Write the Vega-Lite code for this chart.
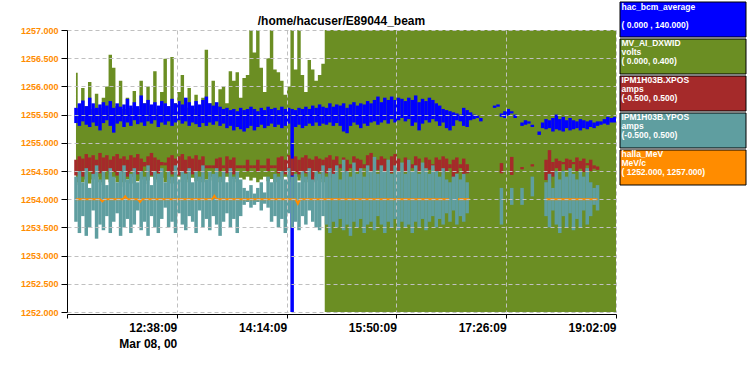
{
"$schema": "https://vega.github.io/schema/vega-lite/v6.json",
"width": 549,
"height": 282,
"autosize": {"type": "none"},
"padding": {"left": 67, "top": 30, "right": 132, "bottom": 69},
"background": "white",
"title": {"text": "/home/hacuser/E89044_beam", "font": "Liberation Sans", "fontSize": 12, "fontWeight": "bold", "color": "black", "anchor": "middle", "frame": "group", "baseline": "alphabetic", "offset": -34.5, "dy": 1},
"config": {"view": {"stroke": null}},
"datasets": {
"green": [
{"t":"2000-03-08T11:10","lo":1254.3,"hi":1256.24},
{"t":"2000-03-08T11:13","lo":1254.25,"hi":1255.6},
{"t":"2000-03-08T11:16","lo":1254.3,"hi":1255.97},
{"t":"2000-03-08T11:19","lo":1254.35,"hi":1255.65},
{"t":"2000-03-08T11:22","lo":1254.28,"hi":1256.08},
{"t":"2000-03-08T11:25","lo":1254.35,"hi":1255.6},
{"t":"2000-03-08T11:28","lo":1254.4,"hi":1255.87},
{"t":"2000-03-08T11:31","lo":1254.3,"hi":1255.62},
{"t":"2000-03-08T11:34","lo":1254.25,"hi":1255.8},
{"t":"2000-03-08T11:37","lo":1254.35,"hi":1256.0},
{"t":"2000-03-08T11:40","lo":1254.3,"hi":1256.56},
{"t":"2000-03-08T11:43","lo":1254.38,"hi":1256.33},
{"t":"2000-03-08T11:46","lo":1254.3,"hi":1255.65},
{"t":"2000-03-08T11:49","lo":1254.22,"hi":1256.1},
{"t":"2000-03-08T11:52","lo":1254.3,"hi":1255.6},
{"t":"2000-03-08T11:55","lo":1254.35,"hi":1255.8},
{"t":"2000-03-08T11:58","lo":1254.28,"hi":1255.62},
{"t":"2000-03-08T12:01","lo":1254.4,"hi":1255.92},
{"t":"2000-03-08T12:04","lo":1254.32,"hi":1255.6},
{"t":"2000-03-08T12:07","lo":1254.35,"hi":1256.1},
{"t":"2000-03-08T12:10","lo":1254.27,"hi":1255.7},
{"t":"2000-03-08T12:13","lo":1254.33,"hi":1256.0},
{"t":"2000-03-08T12:16","lo":1254.4,"hi":1255.65},
{"t":"2000-03-08T12:19","lo":1254.35,"hi":1256.27},
{"t":"2000-03-08T12:22","lo":1254.3,"hi":1255.6},
{"t":"2000-03-08T12:25","lo":1254.38,"hi":1255.9},
{"t":"2000-03-08T12:28","lo":1254.3,"hi":1256.49},
{"t":"2000-03-08T12:31","lo":1254.35,"hi":1255.65},
{"t":"2000-03-08T12:34","lo":1254.28,"hi":1256.52},
{"t":"2000-03-08T12:37","lo":1254.33,"hi":1255.7},
{"t":"2000-03-08T12:40","lo":1254.4,"hi":1255.9},
{"t":"2000-03-08T12:43","lo":1254.3,"hi":1256.2},
{"t":"2000-03-08T12:46","lo":1254.35,"hi":1255.62},
{"t":"2000-03-08T12:49","lo":1254.3,"hi":1255.97},
{"t":"2000-03-08T12:52","lo":1254.38,"hi":1255.6},
{"t":"2000-03-08T12:55","lo":1254.32,"hi":1255.85},
{"t":"2000-03-08T12:58","lo":1254.36,"hi":1255.65},
{"t":"2000-03-08T13:01","lo":1254.3,"hi":1255.8},
{"t":"2000-03-08T13:04","lo":1254.35,"hi":1256.65},
{"t":"2000-03-08T13:07","lo":1254.4,"hi":1255.7},
{"t":"2000-03-08T13:10","lo":1254.33,"hi":1256.1},
{"t":"2000-03-08T13:13","lo":1254.37,"hi":1255.65},
{"t":"2000-03-08T13:16","lo":1254.3,"hi":1255.95},
{"t":"2000-03-08T13:19","lo":1254.35,"hi":1256.0},
{"t":"2000-03-08T13:22","lo":1254.4,"hi":1255.7},
{"t":"2000-03-08T13:25","lo":1254.32,"hi":1256.27},
{"t":"2000-03-08T13:28","lo":1254.36,"hi":1256.1},
{"t":"2000-03-08T13:31","lo":1254.3,"hi":1256.25},
{"t":"2000-03-08T13:34","lo":1254.38,"hi":1255.8},
{"t":"2000-03-08T13:37","lo":1254.35,"hi":1256.15},
{"t":"2000-03-08T13:40","lo":1254.4,"hi":1256.2},
{"t":"2000-03-08T13:43","lo":1254.33,"hi":1257},
{"t":"2000-03-08T13:46","lo":1254.38,"hi":1256.6},
{"t":"2000-03-08T13:49","lo":1254.3,"hi":1257},
{"t":"2000-03-08T13:52","lo":1254.35,"hi":1256.33},
{"t":"2000-03-08T13:55","lo":1254.4,"hi":1255.9},
{"t":"2000-03-08T13:58","lo":1254.32,"hi":1256.5},
{"t":"2000-03-08T14:01","lo":1254.36,"hi":1257},
{"t":"2000-03-08T14:04","lo":1254.3,"hi":1256.3},
{"t":"2000-03-08T14:07","lo":1254.38,"hi":1256.25},
{"t":"2000-03-08T14:10","lo":1254.35,"hi":1256.1},
{"t":"2000-03-08T14:13","lo":1254.4,"hi":1255.85},
{"t":"2000-03-08T14:16","lo":1254.3,"hi":1256.0},
{"t":"2000-03-08T14:19","lo":1254.35,"hi":1257},
{"t":"2000-03-08T14:22","lo":1254.4,"hi":1256.3},
{"t":"2000-03-08T14:25","lo":1254.33,"hi":1257},
{"t":"2000-03-08T14:28","lo":1254.38,"hi":1256.2},
{"t":"2000-03-08T14:31","lo":1254.3,"hi":1255.9},
{"t":"2000-03-08T14:34","lo":1254.35,"hi":1256.47},
{"t":"2000-03-08T14:37","lo":1254.4,"hi":1256.3},
{"t":"2000-03-08T14:40","lo":1254.33,"hi":1256.1},
{"t":"2000-03-08T14:43","lo":1254.36,"hi":1256.2},
{"t":"2000-03-08T14:46","lo":1254.3,"hi":1256.4},
{"t":"2000-03-08T14:49","lo":1252,"hi":1257},
{"t":"2000-03-08T19:02:09","lo":1252,"hi":1257}
],
"blue": [
{"t":"2000-03-08T11:10","lo":1255.35,"hi":1255.62},
{"t":"2000-03-08T11:13","lo":1255.3,"hi":1255.7},
{"t":"2000-03-08T11:16","lo":1255.38,"hi":1255.75},
{"t":"2000-03-08T11:19","lo":1255.32,"hi":1255.65},
{"t":"2000-03-08T11:22","lo":1255.28,"hi":1255.8},
{"t":"2000-03-08T11:25","lo":1255.36,"hi":1255.7},
{"t":"2000-03-08T11:28","lo":1255.3,"hi":1255.62},
{"t":"2000-03-08T11:31","lo":1255.22,"hi":1255.68},
{"t":"2000-03-08T11:34","lo":1255.35,"hi":1255.72},
{"t":"2000-03-08T11:37","lo":1255.4,"hi":1255.66},
{"t":"2000-03-08T11:40","lo":1255.3,"hi":1255.74},
{"t":"2000-03-08T11:43","lo":1255.18,"hi":1255.62},
{"t":"2000-03-08T11:46","lo":1255.34,"hi":1255.7},
{"t":"2000-03-08T11:49","lo":1255.38,"hi":1255.64},
{"t":"2000-03-08T11:52","lo":1255.28,"hi":1255.68},
{"t":"2000-03-08T11:55","lo":1255.36,"hi":1255.78},
{"t":"2000-03-08T11:58","lo":1255.3,"hi":1255.66},
{"t":"2000-03-08T12:01","lo":1255.4,"hi":1255.72},
{"t":"2000-03-08T12:04","lo":1255.33,"hi":1255.65},
{"t":"2000-03-08T12:07","lo":1255.36,"hi":1255.84},
{"t":"2000-03-08T12:10","lo":1255.3,"hi":1255.7},
{"t":"2000-03-08T12:13","lo":1255.38,"hi":1255.76},
{"t":"2000-03-08T12:16","lo":1255.34,"hi":1255.68},
{"t":"2000-03-08T12:19","lo":1255.4,"hi":1255.72},
{"t":"2000-03-08T12:22","lo":1255.28,"hi":1255.66},
{"t":"2000-03-08T12:25","lo":1255.36,"hi":1255.74},
{"t":"2000-03-08T12:28","lo":1255.32,"hi":1255.7},
{"t":"2000-03-08T12:31","lo":1255.38,"hi":1255.65},
{"t":"2000-03-08T12:34","lo":1255.3,"hi":1255.78},
{"t":"2000-03-08T12:37","lo":1255.36,"hi":1255.7},
{"t":"2000-03-08T12:40","lo":1255.4,"hi":1255.74},
{"t":"2000-03-08T12:43","lo":1255.34,"hi":1255.68},
{"t":"2000-03-08T12:46","lo":1255.38,"hi":1255.8},
{"t":"2000-03-08T12:49","lo":1255.3,"hi":1255.72},
{"t":"2000-03-08T12:52","lo":1255.36,"hi":1255.66},
{"t":"2000-03-08T12:55","lo":1255.33,"hi":1255.74},
{"t":"2000-03-08T12:58","lo":1255.28,"hi":1255.68},
{"t":"2000-03-08T13:01","lo":1255.35,"hi":1255.76},
{"t":"2000-03-08T13:04","lo":1255.3,"hi":1255.82},
{"t":"2000-03-08T13:07","lo":1255.36,"hi":1255.7},
{"t":"2000-03-08T13:10","lo":1255.32,"hi":1255.66},
{"t":"2000-03-08T13:13","lo":1255.38,"hi":1255.72},
{"t":"2000-03-08T13:16","lo":1255.3,"hi":1255.64},
{"t":"2000-03-08T13:19","lo":1255.34,"hi":1255.6},
{"t":"2000-03-08T13:22","lo":1255.26,"hi":1255.62},
{"t":"2000-03-08T13:25","lo":1255.3,"hi":1255.58},
{"t":"2000-03-08T13:28","lo":1255.22,"hi":1255.6},
{"t":"2000-03-08T13:31","lo":1255.28,"hi":1255.56},
{"t":"2000-03-08T13:34","lo":1255.24,"hi":1255.62},
{"t":"2000-03-08T13:37","lo":1255.2,"hi":1255.58},
{"t":"2000-03-08T13:40","lo":1255.26,"hi":1255.6},
{"t":"2000-03-08T13:43","lo":1255.3,"hi":1255.64},
{"t":"2000-03-08T13:46","lo":1255.22,"hi":1255.6},
{"t":"2000-03-08T13:49","lo":1255.28,"hi":1255.56},
{"t":"2000-03-08T13:52","lo":1255.32,"hi":1255.62},
{"t":"2000-03-08T13:55","lo":1255.26,"hi":1255.58},
{"t":"2000-03-08T13:58","lo":1255.3,"hi":1255.64},
{"t":"2000-03-08T14:01","lo":1255.34,"hi":1255.6},
{"t":"2000-03-08T14:04","lo":1255.28,"hi":1255.62},
{"t":"2000-03-08T14:07","lo":1255.32,"hi":1255.58},
{"t":"2000-03-08T14:10","lo":1255.26,"hi":1255.64},
{"t":"2000-03-08T14:13","lo":1255.3,"hi":1255.6},
{"t":"2000-03-08T14:16","lo":1255.34,"hi":1255.62},
{"t":"2000-03-08T14:19","lo":1252,"hi":1255.6},
{"t":"2000-03-08T14:22","lo":1255.28,"hi":1255.58},
{"t":"2000-03-08T14:25","lo":1255.32,"hi":1255.62},
{"t":"2000-03-08T14:28","lo":1255.26,"hi":1255.6},
{"t":"2000-03-08T14:31","lo":1255.3,"hi":1255.64},
{"t":"2000-03-08T14:34","lo":1255.34,"hi":1255.6},
{"t":"2000-03-08T14:37","lo":1255.3,"hi":1255.66},
{"t":"2000-03-08T14:40","lo":1255.36,"hi":1255.62},
{"t":"2000-03-08T14:43","lo":1255.3,"hi":1255.68},
{"t":"2000-03-08T14:46","lo":1255.34,"hi":1255.64},
{"t":"2000-03-08T14:49","lo":1255.32,"hi":1255.62},
{"t":"2000-03-08T14:52","lo":1255.36,"hi":1255.7},
{"t":"2000-03-08T14:55","lo":1255.3,"hi":1255.64},
{"t":"2000-03-08T14:58","lo":1255.35,"hi":1255.68},
{"t":"2000-03-08T15:01","lo":1255.3,"hi":1255.66},
{"t":"2000-03-08T15:04","lo":1255.2,"hi":1255.7},
{"t":"2000-03-08T15:07","lo":1255.17,"hi":1255.62},
{"t":"2000-03-08T15:10","lo":1255.3,"hi":1255.68},
{"t":"2000-03-08T15:13","lo":1255.36,"hi":1255.72},
{"t":"2000-03-08T15:16","lo":1255.32,"hi":1255.66},
{"t":"2000-03-08T15:19","lo":1255.26,"hi":1255.7},
{"t":"2000-03-08T15:22","lo":1255.34,"hi":1255.68},
{"t":"2000-03-08T15:25","lo":1255.3,"hi":1255.74},
{"t":"2000-03-08T15:28","lo":1255.36,"hi":1255.7},
{"t":"2000-03-08T15:31","lo":1255.38,"hi":1255.76},
{"t":"2000-03-08T15:34","lo":1255.32,"hi":1255.82},
{"t":"2000-03-08T15:37","lo":1255.36,"hi":1255.72},
{"t":"2000-03-08T15:40","lo":1255.4,"hi":1255.8},
{"t":"2000-03-08T15:43","lo":1255.34,"hi":1255.76},
{"t":"2000-03-08T15:46","lo":1255.42,"hi":1255.82},
{"t":"2000-03-08T15:49","lo":1255.36,"hi":1255.76},
{"t":"2000-03-08T15:52","lo":1255.4,"hi":1255.8},
{"t":"2000-03-08T15:55","lo":1255.44,"hi":1255.78},
{"t":"2000-03-08T15:58","lo":1255.38,"hi":1255.74},
{"t":"2000-03-08T16:01","lo":1255.42,"hi":1255.8},
{"t":"2000-03-08T16:04","lo":1255.3,"hi":1255.76},
{"t":"2000-03-08T16:07","lo":1255.36,"hi":1255.84},
{"t":"2000-03-08T16:10","lo":1255.22,"hi":1255.72},
{"t":"2000-03-08T16:13","lo":1255.34,"hi":1255.78},
{"t":"2000-03-08T16:16","lo":1255.4,"hi":1255.74},
{"t":"2000-03-08T16:19","lo":1255.36,"hi":1255.8},
{"t":"2000-03-08T16:22","lo":1255.42,"hi":1255.76},
{"t":"2000-03-08T16:25","lo":1255.38,"hi":1255.7},
{"t":"2000-03-08T16:28","lo":1255.3,"hi":1255.66},
{"t":"2000-03-08T16:31","lo":1255.36,"hi":1255.6},
{"t":"2000-03-08T16:34","lo":1255.26,"hi":1255.58},
{"t":"2000-03-08T16:37","lo":1255.22,"hi":1255.56},
{"t":"2000-03-08T16:40","lo":1255.3,"hi":1255.54},
{"t":"2000-03-08T16:43","lo":1255.4,"hi":1255.52},
{"t":"2000-03-08T16:46","lo":1255.38,"hi":1255.5},
{"t":"2000-03-08T16:49","lo":1255.3,"hi":1255.62},
{"t":"2000-03-08T16:52","lo":1255.28,"hi":1255.58},
{"t":"2000-03-08T16:55","lo":1255.4,"hi":1255.54},
{"t":"2000-03-08T16:58","lo":1255.42,"hi":1255.5},
{"t":"2000-03-08T17:01","lo":1255.44,"hi":1255.48},
{"t":"2000-03-08T17:04","lo":1255.38,"hi":1255.44},
{"t":"2000-03-08T17:16","lo":1255.62,"hi":1255.66},
{"t":"2000-03-08T17:19","lo":1255.64,"hi":1255.68},
{"t":"2000-03-08T17:22","lo":1255.46,"hi":1255.52},
{"t":"2000-03-08T17:25","lo":1255.44,"hi":1255.56},
{"t":"2000-03-08T17:28","lo":1255.48,"hi":1255.6},
{"t":"2000-03-08T17:31","lo":1255.52,"hi":1255.56},
{"t":"2000-03-08T17:34","lo":1255.44,"hi":1255.5},
{"t":"2000-03-08T17:40","lo":1255.3,"hi":1255.36},
{"t":"2000-03-08T17:43","lo":1255.32,"hi":1255.4},
{"t":"2000-03-08T17:46","lo":1255.34,"hi":1255.38},
{"t":"2000-03-08T17:49","lo":1255.28,"hi":1255.32},
{"t":"2000-03-08T17:55","lo":1255.14,"hi":1255.2},
{"t":"2000-03-08T17:58","lo":1255.26,"hi":1255.36},
{"t":"2000-03-08T18:01","lo":1255.24,"hi":1255.42},
{"t":"2000-03-08T18:04","lo":1255.26,"hi":1255.4},
{"t":"2000-03-08T18:07","lo":1255.2,"hi":1255.44},
{"t":"2000-03-08T18:10","lo":1255.24,"hi":1255.5},
{"t":"2000-03-08T18:13","lo":1255.22,"hi":1255.42},
{"t":"2000-03-08T18:16","lo":1255.2,"hi":1255.46},
{"t":"2000-03-08T18:19","lo":1255.26,"hi":1255.4},
{"t":"2000-03-08T18:22","lo":1255.22,"hi":1255.44},
{"t":"2000-03-08T18:25","lo":1255.24,"hi":1255.4},
{"t":"2000-03-08T18:28","lo":1255.26,"hi":1255.38},
{"t":"2000-03-08T18:31","lo":1255.22,"hi":1255.42},
{"t":"2000-03-08T18:34","lo":1255.26,"hi":1255.4},
{"t":"2000-03-08T18:37","lo":1255.24,"hi":1255.38},
{"t":"2000-03-08T18:40","lo":1255.28,"hi":1255.4},
{"t":"2000-03-08T18:43","lo":1255.26,"hi":1255.36},
{"t":"2000-03-08T18:46","lo":1255.3,"hi":1255.38},
{"t":"2000-03-08T18:49","lo":1255.32,"hi":1255.38},
{"t":"2000-03-08T18:52","lo":1255.34,"hi":1255.42},
{"t":"2000-03-08T18:55","lo":1255.32,"hi":1255.46},
{"t":"2000-03-08T18:58","lo":1255.36,"hi":1255.44},
{"t":"2000-03-08T19:01","lo":1255.36,"hi":1255.46}
],
"xpos": [
{"t":"2000-03-08T11:10","lo":1254.42,"hi":1254.7},
{"t":"2000-03-08T11:13","lo":1254.48,"hi":1254.76},
{"t":"2000-03-08T11:16","lo":1254.4,"hi":1254.72},
{"t":"2000-03-08T11:19","lo":1254.46,"hi":1254.8},
{"t":"2000-03-08T11:22","lo":1254.5,"hi":1254.74},
{"t":"2000-03-08T11:25","lo":1254.44,"hi":1254.78},
{"t":"2000-03-08T11:28","lo":1254.52,"hi":1254.7},
{"t":"2000-03-08T11:31","lo":1254.46,"hi":1254.82},
{"t":"2000-03-08T11:34","lo":1254.4,"hi":1254.74},
{"t":"2000-03-08T11:37","lo":1254.5,"hi":1254.78},
{"t":"2000-03-08T11:40","lo":1254.44,"hi":1254.7},
{"t":"2000-03-08T11:43","lo":1254.48,"hi":1254.76},
{"t":"2000-03-08T11:46","lo":1254.42,"hi":1254.8},
{"t":"2000-03-08T11:49","lo":1254.5,"hi":1254.72},
{"t":"2000-03-08T11:52","lo":1254.46,"hi":1254.76},
{"t":"2000-03-08T11:55","lo":1254.4,"hi":1254.7},
{"t":"2000-03-08T11:58","lo":1254.48,"hi":1254.78},
{"t":"2000-03-08T12:01","lo":1254.52,"hi":1254.74},
{"t":"2000-03-08T12:04","lo":1254.44,"hi":1254.8},
{"t":"2000-03-08T12:07","lo":1254.5,"hi":1254.72},
{"t":"2000-03-08T12:10","lo":1254.58,"hi":1254.66},
{"t":"2000-03-08T12:13","lo":1254.46,"hi":1254.76},
{"t":"2000-03-08T12:16","lo":1254.42,"hi":1254.82},
{"t":"2000-03-08T12:19","lo":1254.5,"hi":1254.74},
{"t":"2000-03-08T12:22","lo":1254.46,"hi":1254.7},
{"t":"2000-03-08T12:25","lo":1254.6,"hi":1254.66},
{"t":"2000-03-08T12:28","lo":1254.6,"hi":1254.65},
{"t":"2000-03-08T12:31","lo":1254.5,"hi":1254.74},
{"t":"2000-03-08T12:34","lo":1254.44,"hi":1254.78},
{"t":"2000-03-08T12:37","lo":1254.48,"hi":1254.72},
{"t":"2000-03-08T12:40","lo":1254.42,"hi":1254.76},
{"t":"2000-03-08T12:43","lo":1254.5,"hi":1254.8},
{"t":"2000-03-08T12:46","lo":1254.46,"hi":1254.7},
{"t":"2000-03-08T12:49","lo":1254.52,"hi":1254.76},
{"t":"2000-03-08T12:52","lo":1254.44,"hi":1254.72},
{"t":"2000-03-08T12:55","lo":1254.48,"hi":1254.78},
{"t":"2000-03-08T12:58","lo":1254.5,"hi":1254.7},
{"t":"2000-03-08T13:01","lo":1254.46,"hi":1254.76},
{"t":"2000-03-08T13:04","lo":1254.55,"hi":1254.6},
{"t":"2000-03-08T13:07","lo":1254.55,"hi":1254.6},
{"t":"2000-03-08T13:10","lo":1254.55,"hi":1254.6},
{"t":"2000-03-08T13:13","lo":1254.48,"hi":1254.72},
{"t":"2000-03-08T13:16","lo":1254.5,"hi":1254.74},
{"t":"2000-03-08T13:19","lo":1254.55,"hi":1254.6},
{"t":"2000-03-08T13:22","lo":1254.46,"hi":1254.76},
{"t":"2000-03-08T13:25","lo":1254.5,"hi":1254.7},
{"t":"2000-03-08T13:28","lo":1254.44,"hi":1254.74},
{"t":"2000-03-08T13:31","lo":1254.55,"hi":1254.6},
{"t":"2000-03-08T13:34","lo":1254.55,"hi":1254.6},
{"t":"2000-03-08T13:37","lo":1254.55,"hi":1254.6},
{"t":"2000-03-08T13:40","lo":1254.5,"hi":1254.7},
{"t":"2000-03-08T13:43","lo":1254.55,"hi":1254.6},
{"t":"2000-03-08T13:46","lo":1254.55,"hi":1254.6},
{"t":"2000-03-08T13:49","lo":1254.48,"hi":1254.7},
{"t":"2000-03-08T13:52","lo":1254.55,"hi":1254.6},
{"t":"2000-03-08T13:55","lo":1254.55,"hi":1254.6},
{"t":"2000-03-08T13:58","lo":1254.5,"hi":1254.72},
{"t":"2000-03-08T14:01","lo":1254.55,"hi":1254.6},
{"t":"2000-03-08T14:04","lo":1254.55,"hi":1254.6},
{"t":"2000-03-08T14:07","lo":1254.46,"hi":1254.74},
{"t":"2000-03-08T14:10","lo":1254.4,"hi":1254.76},
{"t":"2000-03-08T14:13","lo":1254.44,"hi":1254.7},
{"t":"2000-03-08T14:16","lo":1254.5,"hi":1254.78},
{"t":"2000-03-08T14:19","lo":1254.42,"hi":1254.72},
{"t":"2000-03-08T14:22","lo":1254.48,"hi":1254.76},
{"t":"2000-03-08T14:25","lo":1254.44,"hi":1254.7},
{"t":"2000-03-08T14:28","lo":1254.5,"hi":1254.74},
{"t":"2000-03-08T14:31","lo":1254.46,"hi":1254.78},
{"t":"2000-03-08T14:34","lo":1254.4,"hi":1254.72},
{"t":"2000-03-08T14:37","lo":1254.3,"hi":1254.7},
{"t":"2000-03-08T14:40","lo":1254.44,"hi":1254.76},
{"t":"2000-03-08T14:43","lo":1254.48,"hi":1254.72},
{"t":"2000-03-08T14:46","lo":1254.42,"hi":1254.7},
{"t":"2000-03-08T14:49","lo":1254.46,"hi":1254.74},
{"t":"2000-03-08T14:52","lo":1254.38,"hi":1254.78},
{"t":"2000-03-08T14:55","lo":1254.44,"hi":1254.7},
{"t":"2000-03-08T14:58","lo":1254.48,"hi":1254.76},
{"t":"2000-03-08T15:01","lo":1254.55,"hi":1254.62},
{"t":"2000-03-08T15:04","lo":1254.5,"hi":1254.74},
{"t":"2000-03-08T15:07","lo":1254.46,"hi":1254.7},
{"t":"2000-03-08T15:10","lo":1254.55,"hi":1254.62},
{"t":"2000-03-08T15:13","lo":1254.48,"hi":1254.76},
{"t":"2000-03-08T15:16","lo":1254.5,"hi":1254.72},
{"t":"2000-03-08T15:19","lo":1254.44,"hi":1254.7},
{"t":"2000-03-08T15:22","lo":1254.55,"hi":1254.62},
{"t":"2000-03-08T15:25","lo":1254.48,"hi":1254.78},
{"t":"2000-03-08T15:28","lo":1254.5,"hi":1254.82},
{"t":"2000-03-08T15:31","lo":1254.46,"hi":1254.74},
{"t":"2000-03-08T15:34","lo":1254.52,"hi":1254.7},
{"t":"2000-03-08T15:37","lo":1254.44,"hi":1254.76},
{"t":"2000-03-08T15:40","lo":1254.5,"hi":1254.72},
{"t":"2000-03-08T15:43","lo":1254.55,"hi":1254.62},
{"t":"2000-03-08T15:46","lo":1254.46,"hi":1254.76},
{"t":"2000-03-08T15:49","lo":1254.5,"hi":1254.8},
{"t":"2000-03-08T15:52","lo":1254.44,"hi":1254.72},
{"t":"2000-03-08T15:55","lo":1254.55,"hi":1254.62},
{"t":"2000-03-08T15:58","lo":1254.48,"hi":1254.74},
{"t":"2000-03-08T16:01","lo":1254.5,"hi":1254.7},
{"t":"2000-03-08T16:04","lo":1254.55,"hi":1254.62},
{"t":"2000-03-08T16:07","lo":1254.46,"hi":1254.76},
{"t":"2000-03-08T16:10","lo":1254.5,"hi":1254.72},
{"t":"2000-03-08T16:13","lo":1254.55,"hi":1254.62},
{"t":"2000-03-08T16:16","lo":1254.48,"hi":1254.74},
{"t":"2000-03-08T16:19","lo":1254.52,"hi":1254.7},
{"t":"2000-03-08T16:22","lo":1254.55,"hi":1254.62},
{"t":"2000-03-08T16:25","lo":1254.46,"hi":1254.74},
{"t":"2000-03-08T16:28","lo":1254.5,"hi":1254.7},
{"t":"2000-03-08T16:31","lo":1254.44,"hi":1254.76},
{"t":"2000-03-08T16:34","lo":1254.5,"hi":1254.72},
{"t":"2000-03-08T16:37","lo":1254.55,"hi":1254.62},
{"t":"2000-03-08T16:40","lo":1254.38,"hi":1254.7},
{"t":"2000-03-08T16:43","lo":1254.46,"hi":1254.74},
{"t":"2000-03-08T16:46","lo":1254.55,"hi":1254.62},
{"t":"2000-03-08T16:49","lo":1254.44,"hi":1254.72},
{"t":"2000-03-08T16:52","lo":1254.46,"hi":1254.62},
{"t":"2000-03-08T17:22","lo":1254.46,"hi":1254.64},
{"t":"2000-03-08T17:31","lo":1254.43,"hi":1254.75},
{"t":"2000-03-08T17:40","lo":1254.53,"hi":1254.57},
{"t":"2000-03-08T17:49","lo":1254.58,"hi":1254.62},
{"t":"2000-03-08T18:01","lo":1254.34,"hi":1254.7},
{"t":"2000-03-08T18:04","lo":1254.3,"hi":1254.87},
{"t":"2000-03-08T18:07","lo":1254.4,"hi":1254.66},
{"t":"2000-03-08T18:10","lo":1254.55,"hi":1254.72},
{"t":"2000-03-08T18:13","lo":1254.5,"hi":1254.68},
{"t":"2000-03-08T18:16","lo":1254.62,"hi":1254.66},
{"t":"2000-03-08T18:19","lo":1254.52,"hi":1254.72},
{"t":"2000-03-08T18:22","lo":1254.48,"hi":1254.7},
{"t":"2000-03-08T18:25","lo":1254.62,"hi":1254.66},
{"t":"2000-03-08T18:28","lo":1254.5,"hi":1254.74},
{"t":"2000-03-08T18:31","lo":1254.54,"hi":1254.68},
{"t":"2000-03-08T18:34","lo":1254.48,"hi":1254.72},
{"t":"2000-03-08T18:37","lo":1254.6,"hi":1254.64},
{"t":"2000-03-08T18:40","lo":1254.5,"hi":1254.7},
{"t":"2000-03-08T18:43","lo":1254.54,"hi":1254.6},
{"t":"2000-03-08T18:46","lo":1254.52,"hi":1254.58}
],
"ypos": [
{"t":"2000-03-08T11:10","lo":1253.6,"hi":1254.4},
{"t":"2000-03-08T11:13","lo":1253.4,"hi":1254.5},
{"t":"2000-03-08T11:16","lo":1253.7,"hi":1254.3},
{"t":"2000-03-08T11:19","lo":1253.35,"hi":1254.55},
{"t":"2000-03-08T11:22","lo":1253.5,"hi":1254.2},
{"t":"2000-03-08T11:25","lo":1253.8,"hi":1254.45},
{"t":"2000-03-08T11:28","lo":1253.3,"hi":1254.6},
{"t":"2000-03-08T11:31","lo":1253.55,"hi":1254.35},
{"t":"2000-03-08T11:34","lo":1253.45,"hi":1254.5},
{"t":"2000-03-08T11:37","lo":1253.7,"hi":1254.25},
{"t":"2000-03-08T11:40","lo":1253.4,"hi":1254.55},
{"t":"2000-03-08T11:43","lo":1253.6,"hi":1254.4},
{"t":"2000-03-08T11:46","lo":1253.75,"hi":1254.3},
{"t":"2000-03-08T11:49","lo":1253.35,"hi":1254.5},
{"t":"2000-03-08T11:52","lo":1253.5,"hi":1254.6},
{"t":"2000-03-08T11:55","lo":1253.65,"hi":1254.35},
{"t":"2000-03-08T11:58","lo":1253.4,"hi":1254.45},
{"t":"2000-03-08T12:01","lo":1253.55,"hi":1254.55},
{"t":"2000-03-08T12:04","lo":1253.8,"hi":1254.3},
{"t":"2000-03-08T12:07","lo":1253.45,"hi":1254.5},
{"t":"2000-03-08T12:10","lo":1253.6,"hi":1254.4},
{"t":"2000-03-08T12:13","lo":1253.35,"hi":1254.6},
{"t":"2000-03-08T12:16","lo":1253.7,"hi":1254.25},
{"t":"2000-03-08T12:19","lo":1253.5,"hi":1254.5},
{"t":"2000-03-08T12:22","lo":1253.4,"hi":1254.45},
{"t":"2000-03-08T12:25","lo":1253.65,"hi":1254.55},
{"t":"2000-03-08T12:28","lo":1253.85,"hi":1254.3},
{"t":"2000-03-08T12:31","lo":1253.5,"hi":1254.5},
{"t":"2000-03-08T12:34","lo":1253.6,"hi":1254.4},
{"t":"2000-03-08T12:37","lo":1253.4,"hi":1254.6},
{"t":"2000-03-08T12:40","lo":1253.75,"hi":1254.35},
{"t":"2000-03-08T12:43","lo":1253.55,"hi":1254.5},
{"t":"2000-03-08T12:46","lo":1253.45,"hi":1254.45},
{"t":"2000-03-08T12:49","lo":1253.7,"hi":1254.55},
{"t":"2000-03-08T12:52","lo":1253.6,"hi":1254.3},
{"t":"2000-03-08T12:55","lo":1253.4,"hi":1254.5},
{"t":"2000-03-08T12:58","lo":1253.8,"hi":1254.4},
{"t":"2000-03-08T13:01","lo":1253.5,"hi":1254.6},
{"t":"2000-03-08T13:04","lo":1253.65,"hi":1254.35},
{"t":"2000-03-08T13:07","lo":1253.45,"hi":1254.5},
{"t":"2000-03-08T13:10","lo":1253.7,"hi":1254.45},
{"t":"2000-03-08T13:13","lo":1253.55,"hi":1254.55},
{"t":"2000-03-08T13:16","lo":1253.35,"hi":1254.4},
{"t":"2000-03-08T13:19","lo":1253.6,"hi":1254.5},
{"t":"2000-03-08T13:22","lo":1253.75,"hi":1254.3},
{"t":"2000-03-08T13:25","lo":1253.5,"hi":1254.55},
{"t":"2000-03-08T13:28","lo":1253.65,"hi":1254.4},
{"t":"2000-03-08T13:31","lo":1253.4,"hi":1254.5},
{"t":"2000-03-08T13:34","lo":1253.7,"hi":1254.35},
{"t":"2000-03-08T13:37","lo":1253.9,"hi":1254.2},
{"t":"2000-03-08T13:40","lo":1253.95,"hi":1254.15},
{"t":"2000-03-08T13:43","lo":1253.85,"hi":1254.25},
{"t":"2000-03-08T13:46","lo":1253.9,"hi":1254.1},
{"t":"2000-03-08T13:49","lo":1253.95,"hi":1254.2},
{"t":"2000-03-08T13:52","lo":1253.8,"hi":1254.3},
{"t":"2000-03-08T13:55","lo":1253.92,"hi":1254.12},
{"t":"2000-03-08T13:58","lo":1253.85,"hi":1254.4},
{"t":"2000-03-08T14:01","lo":1253.6,"hi":1254.3},
{"t":"2000-03-08T14:04","lo":1253.7,"hi":1254.45},
{"t":"2000-03-08T14:07","lo":1253.5,"hi":1254.4},
{"t":"2000-03-08T14:10","lo":1253.65,"hi":1254.5},
{"t":"2000-03-08T14:13","lo":1253.4,"hi":1254.35},
{"t":"2000-03-08T14:16","lo":1253.75,"hi":1254.55},
{"t":"2000-03-08T14:19","lo":1253.5,"hi":1254.4},
{"t":"2000-03-08T14:22","lo":1253.6,"hi":1254.45},
{"t":"2000-03-08T14:25","lo":1253.45,"hi":1254.3},
{"t":"2000-03-08T14:28","lo":1253.7,"hi":1254.5},
{"t":"2000-03-08T14:31","lo":1253.55,"hi":1254.4},
{"t":"2000-03-08T14:34","lo":1253.8,"hi":1254.55},
{"t":"2000-03-08T14:37","lo":1253.6,"hi":1254.35},
{"t":"2000-03-08T14:40","lo":1253.5,"hi":1254.5},
{"t":"2000-03-08T14:43","lo":1253.45,"hi":1254.45},
{"t":"2000-03-08T14:46","lo":1253.7,"hi":1254.6},
{"t":"2000-03-08T14:49","lo":1253.55,"hi":1254.4},
{"t":"2000-03-08T14:52","lo":1253.4,"hi":1254.55},
{"t":"2000-03-08T14:55","lo":1253.6,"hi":1254.45},
{"t":"2000-03-08T14:58","lo":1253.5,"hi":1254.6},
{"t":"2000-03-08T15:01","lo":1253.65,"hi":1254.35},
{"t":"2000-03-08T15:04","lo":1253.45,"hi":1254.7},
{"t":"2000-03-08T15:07","lo":1253.55,"hi":1254.5},
{"t":"2000-03-08T15:10","lo":1253.35,"hi":1254.4},
{"t":"2000-03-08T15:13","lo":1253.6,"hi":1254.65},
{"t":"2000-03-08T15:16","lo":1253.5,"hi":1254.45},
{"t":"2000-03-08T15:19","lo":1253.65,"hi":1254.55},
{"t":"2000-03-08T15:22","lo":1253.4,"hi":1254.4},
{"t":"2000-03-08T15:25","lo":1253.55,"hi":1254.6},
{"t":"2000-03-08T15:28","lo":1253.6,"hi":1254.5},
{"t":"2000-03-08T15:31","lo":1253.45,"hi":1254.75},
{"t":"2000-03-08T15:34","lo":1253.7,"hi":1254.45},
{"t":"2000-03-08T15:37","lo":1253.55,"hi":1254.6},
{"t":"2000-03-08T15:40","lo":1253.4,"hi":1254.5},
{"t":"2000-03-08T15:43","lo":1253.6,"hi":1254.7},
{"t":"2000-03-08T15:46","lo":1253.5,"hi":1254.45},
{"t":"2000-03-08T15:49","lo":1253.65,"hi":1254.6},
{"t":"2000-03-08T15:52","lo":1253.45,"hi":1254.5},
{"t":"2000-03-08T15:55","lo":1253.6,"hi":1254.65},
{"t":"2000-03-08T15:58","lo":1253.5,"hi":1254.45},
{"t":"2000-03-08T16:01","lo":1253.55,"hi":1254.7},
{"t":"2000-03-08T16:04","lo":1253.4,"hi":1254.5},
{"t":"2000-03-08T16:07","lo":1253.6,"hi":1254.6},
{"t":"2000-03-08T16:10","lo":1253.5,"hi":1254.45},
{"t":"2000-03-08T16:13","lo":1253.65,"hi":1254.65},
{"t":"2000-03-08T16:16","lo":1253.45,"hi":1254.55},
{"t":"2000-03-08T16:19","lo":1253.6,"hi":1254.45},
{"t":"2000-03-08T16:22","lo":1253.7,"hi":1254.6},
{"t":"2000-03-08T16:25","lo":1253.5,"hi":1254.5},
{"t":"2000-03-08T16:28","lo":1253.65,"hi":1254.4},
{"t":"2000-03-08T16:31","lo":1253.55,"hi":1254.55},
{"t":"2000-03-08T16:34","lo":1253.75,"hi":1254.35},
{"t":"2000-03-08T16:37","lo":1253.6,"hi":1254.3},
{"t":"2000-03-08T16:40","lo":1253.8,"hi":1254.4},
{"t":"2000-03-08T16:43","lo":1253.55,"hi":1254.45},
{"t":"2000-03-08T16:46","lo":1253.7,"hi":1254.35},
{"t":"2000-03-08T16:49","lo":1253.6,"hi":1254.45},
{"t":"2000-03-08T16:52","lo":1253.75,"hi":1254.3},
{"t":"2000-03-08T17:22","lo":1253.55,"hi":1254.2},
{"t":"2000-03-08T17:31","lo":1253.9,"hi":1254.2},
{"t":"2000-03-08T17:40","lo":1253.9,"hi":1254.2},
{"t":"2000-03-08T17:49","lo":1254.05,"hi":1254.4},
{"t":"2000-03-08T18:01","lo":1253.7,"hi":1254.3},
{"t":"2000-03-08T18:04","lo":1253.5,"hi":1254.45},
{"t":"2000-03-08T18:07","lo":1253.8,"hi":1254.2},
{"t":"2000-03-08T18:10","lo":1253.55,"hi":1254.5},
{"t":"2000-03-08T18:13","lo":1253.4,"hi":1254.35},
{"t":"2000-03-08T18:16","lo":1253.7,"hi":1254.5},
{"t":"2000-03-08T18:19","lo":1253.5,"hi":1254.4},
{"t":"2000-03-08T18:22","lo":1253.75,"hi":1254.55},
{"t":"2000-03-08T18:25","lo":1253.45,"hi":1254.45},
{"t":"2000-03-08T18:28","lo":1253.65,"hi":1254.35},
{"t":"2000-03-08T18:31","lo":1253.5,"hi":1254.5},
{"t":"2000-03-08T18:34","lo":1253.8,"hi":1254.4},
{"t":"2000-03-08T18:37","lo":1253.55,"hi":1254.55},
{"t":"2000-03-08T18:40","lo":1253.7,"hi":1254.3},
{"t":"2000-03-08T18:43","lo":1253.9,"hi":1254.2},
{"t":"2000-03-08T18:46","lo":1253.8,"hi":1254.25}
],
"mev": [
{"t":"2000-03-08T11:10","v":1254.0,"seg":1},
{"t":"2000-03-08T11:31","v":1254.0,"seg":1},
{"t":"2000-03-08T11:33","v":1253.96,"seg":1},
{"t":"2000-03-08T11:35","v":1254.0,"seg":1},
{"t":"2000-03-08T11:51","v":1254.0,"seg":1},
{"t":"2000-03-08T11:53","v":1254.05,"seg":1},
{"t":"2000-03-08T11:55","v":1254.0,"seg":1},
{"t":"2000-03-08T12:04","v":1254.0,"seg":1},
{"t":"2000-03-08T12:06","v":1253.95,"seg":1},
{"t":"2000-03-08T12:08","v":1254.0,"seg":1},
{"t":"2000-03-08T13:09","v":1254.0,"seg":1},
{"t":"2000-03-08T13:11","v":1254.06,"seg":1},
{"t":"2000-03-08T13:13","v":1254.0,"seg":1},
{"t":"2000-03-08T14:22","v":1254.0,"seg":1},
{"t":"2000-03-08T14:24","v":1253.92,"seg":1},
{"t":"2000-03-08T14:26","v":1254.0,"seg":1},
{"t":"2000-03-08T16:36","v":1254.0,"seg":1},
{"t":"2000-03-08T16:44","v":1254.0,"seg":2},
{"t":"2000-03-08T16:54","v":1254.0,"seg":2},
{"t":"2000-03-08T18:01","v":1254.0,"seg":3},
{"t":"2000-03-08T18:46","v":1254.0,"seg":3}
],
"legend": [
{"name":"hac_bcm_average","units":"","range":"( 0.000 , 140.000)"},
{"name":"MV_AI_DXWID","units":"volts","range":"( 0.000, 0.400)"},
{"name":"IPM1H03B.XPOS","units":"amps","range":"(-0.500, 0.500)"},
{"name":"IPM1H03B.YPOS","units":"amps","range":"(-0.500, 0.500)"},
{"name":"halla_MeV","units":"MeV/c","range":"( 1252.000, 1257.000)"}
]
},
"layer": [
{"layer": [
{"data": {"name": "green"},
 "mark": {"type": "area", "interpolate": "step", "color": "#6b8e23", "clip": true},
 "encoding": {
  "x": {"field": "t", "type": "temporal", "title": null,
   "scale": {"domain": [{"year": 2000, "month": 3, "date": 8, "hours": 11, "minutes": 2, "seconds": 9}, {"year": 2000, "month": 3, "date": 8, "hours": 19, "minutes": 2, "seconds": 9}], "nice": false},
   "axis": {
    "values": [
     {"year": 2000, "month": 3, "date": 8, "hours": 11, "minutes": 2, "seconds": 9},
     {"year": 2000, "month": 3, "date": 8, "hours": 12, "minutes": 38, "seconds": 9},
     {"year": 2000, "month": 3, "date": 8, "hours": 14, "minutes": 14, "seconds": 9},
     {"year": 2000, "month": 3, "date": 8, "hours": 15, "minutes": 50, "seconds": 9},
     {"year": 2000, "month": 3, "date": 8, "hours": 17, "minutes": 26, "seconds": 9},
     {"year": 2000, "month": 3, "date": 8, "hours": 19, "minutes": 2, "seconds": 9}
    ],
    "tickCount": 20,
    "labelExpr": "timeFormat(datum.value, '%H:%M') == '11:02' ? '' : (timeFormat(datum.value, '%H:%M') == '12:38' ? [timeFormat(datum.value, '%H:%M:%S'), timeFormat(datum.value, '%b %d, %y')] : timeFormat(datum.value, '%H:%M:%S'))",
    "labelAlign": "right", "labelBaseline": "top", "labelFont": "Liberation Sans", "labelFontSize": 12, "labelFontWeight": "bold", "labelColor": "black",
    "labelPadding": 4.5, "labelLineHeight": 16, "labelOverlap": false, "labelFlush": false, "labelBound": false,
    "tickSize": 4, "tickColor": "black", "domainColor": "black", "offset": 2,
    "grid": true, "gridColor": "#c0c0c0", "gridDash": [4, 3], "zindex": 1
   }},
  "y": {"field": "hi", "type": "quantitative", "title": null,
   "scale": {"domain": [1252, 1257], "nice": false, "zero": false},
   "axis": {
    "values": [1252, 1252.5, 1253, 1253.5, 1254, 1254.5, 1255, 1255.5, 1256, 1256.5, 1257],
    "tickCount": 20,
    "format": ".3f", "labelColor": "#ff8c00", "labelFont": "Liberation Sans", "labelFontSize": 9, "labelFontWeight": "bold",
    "labelPadding": 3, "tickSize": 6, "tickColor": "black", "domainColor": "black",
    "labelOverlap": false, "labelFlush": false, "labelBound": false,
    "grid": true, "gridColor": "#c0c0c0", "gridDash": [4, 3], "zindex": 1
   }},
  "y2": {"field": "lo"}
 }},
{"data": {"name": "blue"},
 "mark": {"type": "rule", "strokeWidth": 3.5, "color": "#0000ff", "clip": true},
 "encoding": {"x": {"field": "t", "type": "temporal", "title": null}, "y": {"field": "lo", "type": "quantitative", "title": null}, "y2": {"field": "hi"}}},
{"data": {"name": "xpos"},
 "mark": {"type": "rule", "strokeWidth": 3.5, "color": "#a52a2a", "clip": true},
 "encoding": {"x": {"field": "t", "type": "temporal", "title": null}, "y": {"field": "lo", "type": "quantitative", "title": null}, "y2": {"field": "hi"}}},
{"data": {"name": "ypos"},
 "mark": {"type": "rule", "strokeWidth": 3.5, "color": "#5f9ea0", "clip": true},
 "encoding": {"x": {"field": "t", "type": "temporal", "title": null}, "y": {"field": "lo", "type": "quantitative", "title": null}, "y2": {"field": "hi"}}},
{"data": {"name": "mev"},
 "mark": {"type": "line", "strokeWidth": 2, "color": "#ff8c00", "clip": true},
 "encoding": {"x": {"field": "t", "type": "temporal", "title": null}, "y": {"field": "v", "type": "quantitative", "title": null}, "detail": {"field": "seg", "type": "nominal"}}}
]},
{"data": {"name": "legend"},
 "encoding": {
  "y": {"field": "name", "type": "nominal", "sort": null, "bandPosition": 0, "scale": {"range": [-28, 155], "paddingInner": 0.054, "paddingOuter": 0}, "axis": null},
  "x": {"datum": 0, "type": "quantitative", "scale": {"domain": [0, 1], "range": [553, 679]}, "axis": null}
 },
 "layer": [
  {"mark": {"type": "rect", "stroke": "black", "strokeWidth": 1},
   "encoding": {
    "y": {"field": "name", "type": "nominal", "sort": null, "scale": {"range": [-28, 155], "paddingInner": 0.054, "paddingOuter": 0}, "axis": null},
    "x2": {"datum": 1},
    "color": {"field": "name", "type": "nominal", "scale": {"domain": ["hac_bcm_average", "MV_AI_DXWID", "IPM1H03B.XPOS", "IPM1H03B.YPOS", "halla_MeV"], "range": ["#0000ff", "#6b8e23", "#a52a2a", "#5f9ea0", "#ff8c00"]}, "legend": null}
   }},
  {"mark": {"type": "text", "align": "left", "baseline": "top", "dx": 1.5, "dy": 0.5, "font": "Liberation Sans", "fontSize": 8.5, "fontWeight": "bold", "color": "white"},
   "encoding": {"text": {"field": "name", "type": "nominal"}}},
  {"mark": {"type": "text", "align": "left", "baseline": "top", "dx": 1.5, "dy": 9.5, "font": "Liberation Sans", "fontSize": 8.5, "fontWeight": "bold", "color": "white"},
   "encoding": {"text": {"field": "units", "type": "nominal"}}},
  {"mark": {"type": "text", "align": "left", "baseline": "top", "dx": 1.5, "dy": 18.5, "font": "Liberation Sans", "fontSize": 8.5, "fontWeight": "bold", "color": "white"},
   "encoding": {"text": {"field": "range", "type": "nominal"}}}
 ]}
],
"resolve": {"scale": {"x": "independent", "y": "independent"}}
}
